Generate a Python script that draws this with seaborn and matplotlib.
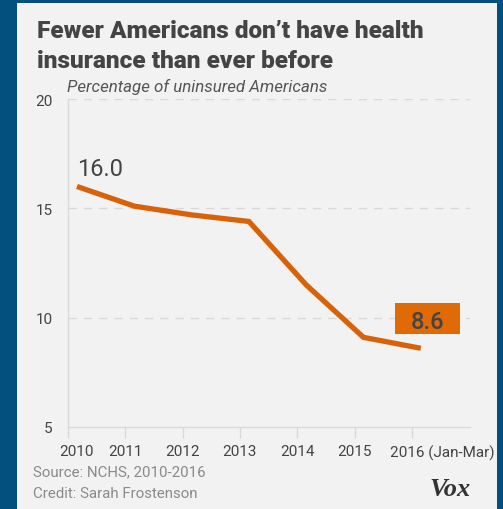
import matplotlib
matplotlib.use("Agg")
import matplotlib.pyplot as plt
import matplotlib.transforms as mtransforms
from matplotlib.patches import Rectangle
import seaborn as sns
import pandas as pd

# Uninsured rate by year (NCHS)
years = [2010, 2011, 2012, 2013, 2014, 2015, 2016]
uninsured_pct = [16.0, 15.1, 14.7, 14.4, 11.5, 9.1, 8.6]
year_labels = ["2010", "2011", "2012", "2013", "2014", "2015", "2016 (Jan-Mar)"]
y_ticks = [5, 10, 15, 20]

df = pd.DataFrame({"year": years, "pct": uninsured_pct})

BLUE = "#03507e"
PANEL = "#f1f2f1"
ORANGE = "#d8620a"
BOX = "#df6a06"
DARK = "#444444"
GREY = "#8a8a8a"
GRID = "#d9d9d9"

sns.set_theme(style="white")
plt.rcParams["font.family"] = ["Roboto", "DejaVu Sans"]

W, H = 503, 510
fig = plt.figure(figsize=(W / 100, H / 100), dpi=100)
fig.patch.set_facecolor(PANEL)

# blue frame around the panel
for (x0, y0, w, h) in [(0, 0, 17, H), (497, 0, W - 497, H), (0, H - 4, W, 4)]:
    fig.add_artist(Rectangle((x0 / W, y0 / H), w / W, h / H,
                             transform=fig.transFigure, facecolor=BLUE,
                             edgecolor="none", zorder=0))

# axes placement (pixels)
ax_l, ax_r, ax_t, ax_b = 68, 470, 100, 428
px_per_year = 57.3
px_per_unit = (ax_b - ax_t) / 15
ax = fig.add_axes([ax_l / W, 1 - ax_b / H, (ax_r - ax_l) / W, (ax_b - ax_t) / H])
ax.set_facecolor("none")

sns.lineplot(data=df, x="year", y="pct", ax=ax, color=ORANGE, linewidth=3.8,
             solid_joinstyle="miter", solid_capstyle="butt", legend=False)

shift = 0.157  # category ticks sit slightly left of the data points
tick_pos = [y - shift for y in years]
ax.set_xlim(years[0] - shift, years[0] - shift + (ax_r - ax_l) / px_per_year)
ax.set_ylim(5, 20)

ax.set_xticks(tick_pos)
ax.set_xticklabels(year_labels)
ax.set_yticks(y_ticks)
ax.set_yticklabels([str(v) for v in y_ticks])
ax.set_xlabel("")
ax.set_ylabel("")

for s in ["top", "right"]:
    ax.spines[s].set_visible(False)
ax.spines["left"].set_color(GRID)
ax.spines["left"].set_linewidth(1.0)
ax.spines["bottom"].set_color(GRID)
ax.spines["bottom"].set_linewidth(1.0)

for yv in [10, 15, 20]:
    ax.axhline(yv, color=GRID, linewidth=1.0, dashes=(6, 5), zorder=0)

ax.tick_params(axis="x", length=8, width=1.0, color=GRID, pad=4.5,
               labelsize=11, labelcolor=DARK, direction="out", bottom=True)
ax.tick_params(axis="y", length=0, pad=11, labelsize=11, labelcolor=DARK, left=False)

xlabels = ax.get_xticklabels()
# first label nudged right, clear of the "5"
xlabels[0].set_transform(xlabels[0].get_transform() +
                         mtransforms.ScaledTranslation(8 / 100, 0, fig.dpi_scale_trans))
xlabels[-1].set_horizontalalignment("left")
xlabels[-1].set_transform(xlabels[-1].get_transform() +
                          mtransforms.ScaledTranslation(-22 / 100, 0, fig.dpi_scale_trans))

# value labels
ax.text(years[0], uninsured_pct[0] + 11 / px_per_unit, f"{uninsured_pct[0]:.1f}",
        fontsize=17, color=DARK, ha="left", va="baseline")

box_w = 65 / px_per_year
box_h = 31 / px_per_unit
box_cx = years[-1] + 0.12
box_cy = uninsured_pct[-1] + 1.36
ax.add_patch(Rectangle((box_cx - box_w / 2, box_cy - box_h / 2), box_w, box_h,
                       facecolor=BOX, edgecolor="none", zorder=3, clip_on=False))
ax.text(box_cx, box_cy, f"{uninsured_pct[-1]:.1f}", fontsize=17, color=DARK,
        fontweight="medium", ha="center", va="center_baseline", zorder=4)

# titles
title_kw = dict(fontsize=17.6, fontweight="black", color=DARK, va="center", ha="left")
fig.text(37 / W, 1 - 31 / H, "Fewer Americans don’t have health", **title_kw)
fig.text(37 / W, 1 - 61 / H, "insurance than ever before", **title_kw)
fig.text(67 / W, 1 - 87 / H, "Percentage of uninsured Americans",
         fontsize=12.2, style="italic", color="#555555", va="center", ha="left")

# footer
fig.text(33 / W, 1 - 472 / H, "Source: NCHS, 2010-2016", fontsize=10.8,
         color=GREY, va="center", ha="left")
fig.text(33 / W, 1 - 494 / H, "Credit: Sarah Frostenson", fontsize=10.8,
         color=GREY, va="center", ha="left")
fig.text(471 / W, 1 - 490 / H, "Vox", fontsize=19, fontweight="bold",
         style="italic", color="#333333", va="center", ha="right",
         family=["Liberation Serif", "DejaVu Serif"])

fig.savefig("out.png", dpi=100, facecolor=fig.get_facecolor())
